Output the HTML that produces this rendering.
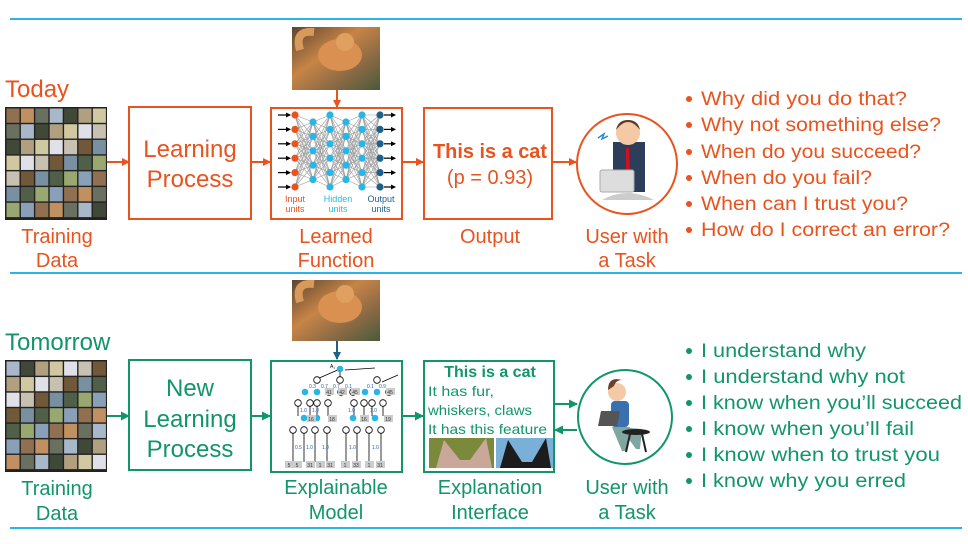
<!DOCTYPE html>
<html><head><meta charset="utf-8"><style>
body{margin:0;background:#fff;width:968px;height:544px;overflow:hidden}
svg{display:block;font-family:"Liberation Sans",sans-serif}
</style></head><body>
<svg id="s" width="968" height="544" viewBox="0 0 968 544" xmlns="http://www.w3.org/2000/svg">
<defs>
<marker id="ao" markerWidth="8" markerHeight="8" refX="7" refY="4" orient="auto" markerUnits="userSpaceOnUse"><path d="M0,0L8,4L0,8z" fill="#e8531e"/></marker>
<marker id="ag" markerWidth="9" markerHeight="9" refX="8" refY="4.5" orient="auto" markerUnits="userSpaceOnUse"><path d="M0,0L9,4.5L0,9z" fill="#12956a"/></marker>
<marker id="ab" markerWidth="8" markerHeight="8" refX="7" refY="4" orient="auto" markerUnits="userSpaceOnUse"><path d="M0,0L8,4L0,8z" fill="#1f5f8b"/></marker>
<marker id="ak" markerWidth="5" markerHeight="5" refX="4" refY="2.5" orient="auto" markerUnits="userSpaceOnUse"><path d="M0,0L5,2.5L0,5z" fill="#000"/></marker>
<linearGradient id="cat" x1="0" y1="0" x2="1" y2="1"><stop offset="0" stop-color="#5a4632"/><stop offset=".4" stop-color="#c88446"/><stop offset=".7" stop-color="#8a6a45"/><stop offset="1" stop-color="#4a5a3a"/></linearGradient>
</defs>
<line x1="10" y1="19" x2="962" y2="19" stroke="#2ab4e8" stroke-width="2"/>
<line x1="10" y1="273" x2="962" y2="273" stroke="#2ab4e8" stroke-width="2"/>
<line x1="10" y1="528" x2="962" y2="528" stroke="#2ab4e8" stroke-width="2"/>

<g fill="#e8531e">
<text x="5" y="97" font-size="24">Today</text>
<text x="57" y="243" font-size="20" text-anchor="middle">Training</text>
<text x="57" y="267" font-size="20" text-anchor="middle">Data</text>
<text x="190" y="157" font-size="24" text-anchor="middle">Learning</text>
<text x="190" y="187" font-size="24" text-anchor="middle">Process</text>
<text x="336" y="243" font-size="20" text-anchor="middle">Learned</text>
<text x="336" y="267" font-size="20" text-anchor="middle">Function</text>
<text x="490" y="158" font-size="20" font-weight="bold" text-anchor="middle" textLength="114" lengthAdjust="spacingAndGlyphs">This is a cat</text>
<text x="490" y="184" font-size="20" text-anchor="middle">(p = 0.93)</text>
<text x="490" y="243" font-size="20" text-anchor="middle">Output</text>
<text x="627" y="243" font-size="20" text-anchor="middle">User with</text>
<text x="627" y="267" font-size="20" text-anchor="middle">a Task</text>
<g font-size="19">
<circle cx="689" cy="99" r="3"/><text x="701" y="105" textLength="206" lengthAdjust="spacingAndGlyphs">Why did you do that?</text>
<circle cx="689" cy="125" r="3"/><text x="701" y="131" textLength="240" lengthAdjust="spacingAndGlyphs">Why not something else?</text>
<circle cx="689" cy="152" r="3"/><text x="701" y="158" textLength="220" lengthAdjust="spacingAndGlyphs">When do you succeed?</text>
<circle cx="689" cy="178" r="3"/><text x="701" y="184" textLength="171" lengthAdjust="spacingAndGlyphs">When do you fail?</text>
<circle cx="689" cy="204" r="3"/><text x="701" y="210" textLength="207" lengthAdjust="spacingAndGlyphs">When can I trust you?</text>
<circle cx="689" cy="230" r="3"/><text x="701" y="236" textLength="249" lengthAdjust="spacingAndGlyphs">How do I correct an error?</text>
</g>
</g>
<g id="grid1"></g>
<rect x="129" y="107" width="122" height="112" fill="none" stroke="#e8531e" stroke-width="2"/>
<rect x="271" y="108" width="131" height="111" fill="none" stroke="#e8531e" stroke-width="2"/>
<rect x="424" y="108" width="128" height="111" fill="none" stroke="#e8531e" stroke-width="2"/>
<circle cx="627" cy="164" r="50" fill="none" stroke="#e8531e" stroke-width="2"/>
<g stroke="#e8531e" stroke-width="2" marker-end="url(#ao)">
<line x1="107" y1="162" x2="129" y2="162"/>
<line x1="251" y1="162" x2="270" y2="162"/>
<line x1="402" y1="162" x2="423" y2="162"/>
<line x1="552" y1="162" x2="576" y2="162"/>
<line x1="337" y1="90" x2="337" y2="107"/>
</g>
<rect x="292" y="27" width="88" height="63" fill="url(#cat)"/>
<ellipse cx="340" cy="55" rx="22" ry="16" fill="#d99050"/><circle cx="345" cy="42" r="9" fill="#e0a060"/><path d="M300,50 q-6,-20 14,-18" stroke="#d89a5a" stroke-width="8" fill="none"/>
<g id="nn"></g>
<g font-size="9" text-anchor="middle">
<text x="295" y="202" fill="#e8531e">Input</text><text x="295" y="212" fill="#e8531e">units</text>
<text x="338" y="202" fill="#29b6e6">Hidden</text><text x="338" y="212" fill="#29b6e6">units</text>
<text x="381" y="202" fill="#1f5f8b">Output</text><text x="381" y="212" fill="#1f5f8b">units</text>
</g>
<g>
<path d="M602,200 q25,-14 52,0 z" fill="#ccc"/>
<rect x="613" y="142" width="32" height="50" fill="#2c3e5a"/>
<path d="M626,148 l3,0 l1,30 l-2,4 l-2,-4z" fill="#d01020"/>
<circle cx="628" cy="133" r="12" fill="#f3c9a6"/><path d="M616,130 q12,-16 24,0 q-2,-10 -12,-10 q-10,0 -12,10z" fill="#5a3a28"/>
<rect x="600" y="170" width="34" height="22" rx="2" fill="#ddd" stroke="#aaa"/>
<path d="M598,138 l6,-4 l-2,5 l6,-3" stroke="#2a8ad0" fill="none" stroke-width="1.5"/>
</g>

<g fill="#12956a">
<text x="5" y="350" font-size="24">Tomorrow</text>
<text x="57" y="495" font-size="20" text-anchor="middle">Training</text>
<text x="57" y="520" font-size="20" text-anchor="middle">Data</text>
<text x="190" y="396" font-size="24" text-anchor="middle">New</text>
<text x="190" y="427" font-size="24" text-anchor="middle">Learning</text>
<text x="190" y="457" font-size="24" text-anchor="middle">Process</text>
<text x="336" y="494" font-size="20" text-anchor="middle">Explainable</text>
<text x="336" y="519" font-size="20" text-anchor="middle">Model</text>
<text x="490" y="494" font-size="20" text-anchor="middle">Explanation</text>
<text x="490" y="519" font-size="20" text-anchor="middle">Interface</text>
<text x="627" y="494" font-size="20" text-anchor="middle">User with</text>
<text x="627" y="519" font-size="20" text-anchor="middle">a Task</text>
<text x="490" y="377" font-size="16" font-weight="bold" text-anchor="middle">This is a cat</text>
<text x="428" y="396" font-size="14" textLength="66" lengthAdjust="spacingAndGlyphs">It has fur,</text>
<text x="428" y="415" font-size="14" textLength="104" lengthAdjust="spacingAndGlyphs">whiskers, claws</text>
<text x="428" y="434" font-size="14" textLength="119" lengthAdjust="spacingAndGlyphs">It has this feature</text>
<g font-size="19">
<circle cx="689" cy="351" r="3"/><text x="701" y="357" textLength="165" lengthAdjust="spacingAndGlyphs">I understand why</text>
<circle cx="689" cy="377" r="3"/><text x="701" y="383" textLength="204" lengthAdjust="spacingAndGlyphs">I understand why not</text>
<circle cx="689" cy="403" r="3"/><text x="701" y="409" textLength="261" lengthAdjust="spacingAndGlyphs">I know when you’ll succeed</text>
<circle cx="689" cy="429" r="3"/><text x="701" y="435" textLength="213" lengthAdjust="spacingAndGlyphs">I know when you’ll fail</text>
<circle cx="689" cy="455" r="3"/><text x="701" y="461" textLength="239" lengthAdjust="spacingAndGlyphs">I know when to trust you</text>
<circle cx="689" cy="481" r="3"/><text x="701" y="487" textLength="205" lengthAdjust="spacingAndGlyphs">I know why you erred</text>
</g>
</g>
<g id="grid2"></g>
<rect x="129" y="360" width="122" height="110" fill="none" stroke="#12956a" stroke-width="2"/>
<rect x="271" y="361" width="131" height="111" fill="none" stroke="#12956a" stroke-width="2"/>
<rect x="424" y="361" width="130" height="111" fill="none" stroke="#12956a" stroke-width="2"/>
<circle cx="625" cy="417" r="47" fill="none" stroke="#12956a" stroke-width="2"/>
<g stroke="#12956a" stroke-width="2" marker-end="url(#ag)">
<line x1="107" y1="416" x2="129" y2="416"/>
<line x1="251" y1="416" x2="270" y2="416"/>
<line x1="402" y1="416" x2="423" y2="416"/>
<line x1="555" y1="404" x2="577" y2="404"/>
<line x1="577" y1="430" x2="555" y2="430"/>
</g>
<line x1="337" y1="340" x2="337" y2="359" stroke="#1f5f8b" stroke-width="2" marker-end="url(#ab)"/>
<rect x="292" y="280" width="88" height="61" fill="url(#cat)"/>
<ellipse cx="340" cy="307" rx="22" ry="16" fill="#d99050"/><circle cx="345" cy="294" r="9" fill="#e0a060"/><path d="M300,302 q-6,-20 14,-18" stroke="#d89a5a" stroke-width="8" fill="none"/>
<rect x="429" y="438" width="65" height="30" fill="#7a8a3a"/>
<path d="M436,468 l8,-28 l16,20 l10,0 l16,-22 l6,30z" fill="#c9a89a"/>
<rect x="496" y="438" width="57" height="30" fill="#7ab0d8"/>
<path d="M500,468 l8,-28 l14,22 l10,0 l14,-24 l5,30z" fill="#1c1c1c"/>
<g id="tree"></g>
<g>
<circle cx="617" cy="392" r="9" fill="#f3c9a6"/><path d="M608,390 q0,-14 14,-10 q-6,0 -8,6z" fill="#6a4028"/>
<rect x="611" y="401" width="18" height="26" rx="4" fill="#3a6fb0"/>
<polygon points="601,411 620,411 617,426 598,426" fill="#555"/>
<path d="M612,427 l18,0 l-4,24 l-4,0z M620,427 l22,2 l-2,20 l-4,0z" fill="#7fa6a0"/>
<ellipse cx="636" cy="432" rx="14" ry="3" fill="#222"/>
<line x1="630" y1="434" x2="626" y2="452" stroke="#222" stroke-width="2"/><line x1="642" y1="434" x2="646" y2="452" stroke="#222" stroke-width="2"/>
</g>
</svg>
<script>
var NS="http://www.w3.org/2000/svg";
function el(p,t,a){var e=document.createElementNS(NS,t);for(var k in a)e.setAttribute(k,a[k]);p.appendChild(e);return e;}
var cols=["#8aa0b8","#6a7060","#b0a080","#c8c0b0","#506048","#907050","#a8b8c8","#d0c8a0","#705838","#98a870","#c09060","#404838","#e0e0e8","#7890a0"];
["grid1","grid2"].forEach(function(id,gi){var g=document.getElementById(id);var y0=gi?360:107,h=gi?112:113;
el(g,"rect",{x:5,y:y0,width:102,height:h,fill:"#222"});
var n=0;for(var r=0;r<7;r++)for(var c=0;c<7;c++){n++;el(g,"rect",{x:6.5+c*14.4,y:y0+1.5+r*(h-3)/7,width:13,height:(h-3)/7-1.4,fill:cols[(n*5+r*3+gi)%cols.length]});}});
var nn=document.getElementById("nn");
var L=[[295,6,"#e8531e"],[313,5,"#29b6e6"],[330,6,"#29b6e6"],[346,5,"#29b6e6"],[362,6,"#29b6e6"],[380,6,"#1f5f8b"]];
function ys(n){var a=[];var s=14.4,t=(n==6)?115:122;for(var i=0;i<n;i++)a.push(t+i*s);return a;}
for(var i=0;i<L.length-1;i++){var a=ys(L[i][1]),b=ys(L[i+1][1]);a.forEach(function(y1){b.forEach(function(y2){el(nn,"line",{x1:L[i][0],y1:y1,x2:L[i+1][0],y2:y2,stroke:"#999","stroke-width":0.6});});});}
ys(6).forEach(function(y){el(nn,"line",{x1:278,y1:y,x2:290,y2:y,stroke:"#000","stroke-width":1.2,"marker-end":"url(#ak)"});el(nn,"line",{x1:384,y1:y,x2:395,y2:y,stroke:"#000","stroke-width":1.2,"marker-end":"url(#ak)"});});
L.forEach(function(l){ys(l[1]).forEach(function(y){el(nn,"circle",{cx:l[0],cy:y,r:3.6,fill:l[2]});});});
var t=document.getElementById("tree");
function ln(x1,y1,x2,y2){el(t,"line",{x1:x1,y1:y1,x2:x2,y2:y2,stroke:"#000","stroke-width":0.8});}
function nd(x,y,f){el(t,"circle",{cx:x,cy:y,r:3.3,fill:f?"#29b6e6":"#fff",stroke:f?"none":"#000","stroke-width":0.8});}
function bx(x,y,s){el(t,"rect",{x:x-4,y:y-4,width:9,height:7,fill:"#ccc"});var e=el(t,"text",{x:x,y:y+2,"font-size":5,"text-anchor":"middle",fill:"#333"});e.textContent=s;}
function lb(x,y,s){var e=el(t,"text",{x:x,y:y,"font-size":5,fill:"#2a5ab0"});e.textContent=s;}
ln(375,368,345,370);ln(340,369,317,379);ln(340,369,340,379);ln(398,375,382,382);
nd(340,369,1);var e=el(t,"text",{x:330,y:368,"font-size":5});e.textContent="A₁";
[[317,380],[340,380],[377,380]].forEach(function(p){nd(p[0],p[1]);});
var lev2=[[305,392,1],[317,392,1],[329,392],[341,392],[353,392],[365,392,1],[377,392,1],[389,392]];
lev2.forEach(function(p){nd(p[0],p[1],p[2]);});
bx(329,392,"41");bx(342,392,"42");bx(355,392,"45");bx(390,392,"45");
lb(309,388,"0.3");lb(321,388,"0.7");lb(333,388,"0.7");lb(345,388,"0.1");lb(367,388,"0.1");lb(379,388,"0.9");
[298,310,317,328,354,364,372,383].forEach(function(x){nd(x,403);ln(x,406,x,416);});
lb(300,412,"1.0");lb(312,412,"1.0");lb(348,412,"1.0");lb(370,412,"1.0");
nd(304,418,1);nd(317,418,1);nd(353,418,1);nd(375,418,1);bx(311,419,"16");bx(332,419,"18");bx(364,419,"16");bx(388,419,"19");
[293,304,315,327,346,357,369,381].forEach(function(x){nd(x,430);ln(x,433,x,462);});
[["5",289],["5",297],["31",310],["1",320],["31",330],["1",345],["33",356],["1",369],["31",380]].forEach(function(p){bx(p[1],465,p[0]);});
lb(295,449,"0.5");lb(306,449,"1.0");lb(322,449,"1.0");lb(349,449,"1.0");lb(372,449,"1.0");
</script>
</body></html>
